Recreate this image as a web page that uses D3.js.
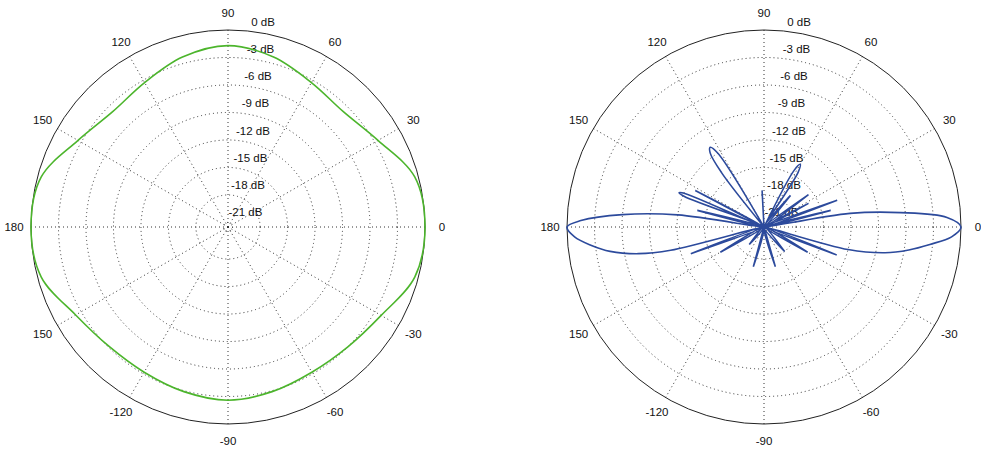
<!DOCTYPE html><html><head><meta charset="utf-8">
<script src="https://cdn.jsdelivr.net/npm/d3@7"></script>
<style>body{margin:0;background:#fff}text{font-family:"Liberation Sans",Arial,sans-serif;font-size:11.5px;fill:#111}</style>
</head><body><svg width="981" height="450"></svg>
<script>
const ringDb = [0,-3,-6,-9,-12,-15,-18,-21];
const ringLabels = ["0 dB","-3 dB","-6 dB","-9 dB","-12 dB","-15 dB","-18 dB","-21 dB"];
const spokeAngles = [0,30,60,90,120,150,180,-150,-120,-90,-60,-30];
const spokeLabels = ["0","30","60","90","120","150","180","150","-120","-90","-60","-30"];
const greenAngles = [0,15,30,45,60,75,90,105,120,135,150,165,180,195,210,225,240,255,270,285,300,315,330,345];
const greenDb =     [0,-0.4,-2.6,-3.7,-3.3,-2.3,-1.7,-2.3,-3.3,-3.7,-2.6,-0.4,0,-0.4,-2.3,-3.1,-3.2,-2.9,-2.6,-2.9,-3.2,-3.0,-2.2,-0.4];
const blueAngles = [-180,-177,-174,-171,-168,-166,-164,-160,-156,-150,-146,-130,-120,-105,-100,-80,-74,-68,-50,-40,-30,-24,-21,-18,-15,-12,-9,-6,-3,0,3,6,9,11,14,17,20,23,28,31,36,40,50,54,58,60,62,64,80,93,98,118,122,124,126,128,132,148,152,155,157,158,159,161,166,170,172,175,178];
const blueDb = [0,-0.8,-2.5,-4.5,-7.5,-11,-21.5,-13,-21.5,-16,-21.5,-19,-21.5,-17,-21.5,-21.5,-17,-21.5,-18,-21.5,-16,-21.5,-13,-21.5,-12,-8,-5.5,-3.3,-1,0,-1.5,-6.5,-12,-21.5,-14,-21.5,-13,-21.5,-16,-21.5,-15.5,-21.5,-17,-21.5,-14.5,-13.6,-14.5,-21.5,-21.5,-17.5,-21.5,-21.5,-12,-11,-11.5,-14,-21.5,-21.5,-13,-21.5,-12.2,-11.5,-12.2,-21.5,-14,-21.5,-12,-6,-1.5];

const svg = d3.select("svg");
const R = 197, minDb = -21.5;
const rs = d3.scaleLinear().domain([minDb,0]).range([0,R]).clamp(true);
const rad = a => a*Math.PI/180;

function polar(cx, cy, angles, dbs, color){
  const g = svg.append("g").attr("transform",`translate(${cx},${cy})`);
  ringDb.slice(1).forEach(d=>g.append("circle").attr("r",rs(d)).attr("fill","none").attr("stroke","#333").attr("stroke-width",1).attr("stroke-dasharray","1,3"));
  spokeAngles.forEach(a=>g.append("line").attr("x1",0).attr("y1",0).attr("x2",R*Math.cos(rad(a))).attr("y2",-R*Math.sin(rad(a))).attr("stroke","#333").attr("stroke-dasharray","1,3"));
  g.append("circle").attr("r",R).attr("fill","none").attr("stroke","#222").attr("stroke-width",1);
  spokeAngles.forEach((a,i)=>g.append("text").attr("x",214*Math.cos(rad(a))).attr("y",-214*Math.sin(rad(a))+4).attr("text-anchor","middle").text(spokeLabels[i]));
  ringDb.forEach((d,i)=>{const r=rs(d);g.append("text").attr("x",17+18*r/R).attr("y",-(10.5+r*0.987)+4).attr("text-anchor","middle").text(ringLabels[i]);});
  const pts = angles.map((a,i)=>[rs(dbs[i])*Math.cos(rad(a)), -rs(dbs[i])*Math.sin(rad(a))]);
  g.append("path").attr("d",d3.line().curve(d3.curveCatmullRomClosed.alpha(0.5))(pts)).attr("fill","none").attr("stroke",color).attr("stroke-width",1.6);
}
polar(228,227,greenAngles,greenDb,"#4cb52c");
polar(764,227,blueAngles,blueDb,"#2c4a9c");
</script></body></html>
